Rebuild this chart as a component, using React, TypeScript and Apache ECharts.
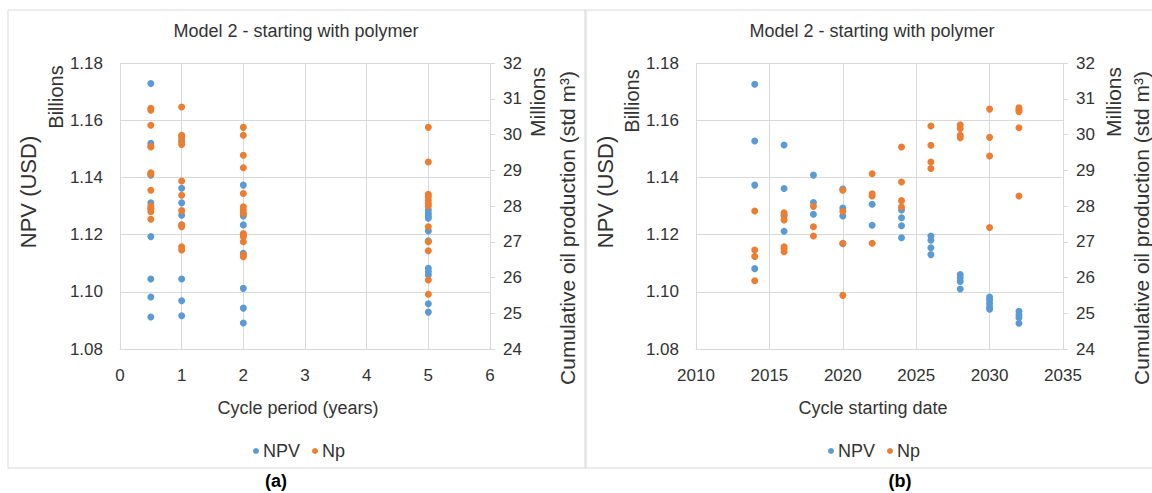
import React, { useEffect, useRef } from "react";
import * as echarts from "echarts";

const chartTitle = "Model 2 - starting with polymer";

// Panel (a): cycle period (years)
const periods = [0.5, 1, 2, 5];
const npvByPeriod = [
  [1.1728, 1.1519, 1.1408, 1.1311, 1.129, 1.1193, 1.1045, 1.0982, 1.0912],
  [1.153, 1.1362, 1.1311, 1.1268, 1.1234, 1.1045, 1.0969, 1.0916],
  [1.1373, 1.1274, 1.1265, 1.1234, 1.1199, 1.1135, 1.1012, 1.0943, 1.0891],
  [1.1286, 1.1274, 1.1265, 1.1257, 1.1213, 1.1178, 1.1082, 1.1071, 1.1059, 1.0958, 1.0929],
];
const npByPeriod = [
  [30.73, 30.68, 30.26, 29.67, 29.65, 28.93, 28.89, 28.44, 28.0, 27.93, 27.84, 27.63],
  [30.77, 29.98, 29.93, 29.79, 29.72, 28.7, 28.3, 27.87, 27.47, 27.42, 26.86, 26.77],
  [30.2, 29.98, 29.42, 29.07, 28.35, 27.98, 27.89, 27.79, 27.23, 27.14, 27.0, 26.63, 26.58],
  [30.2, 29.23, 28.33, 28.26, 28.16, 28.07, 28.0, 27.42, 27.0, 26.75, 25.93, 25.53],
];

// Panel (b): cycle starting date
const startYears = [2014, 2016, 2018, 2020, 2022, 2024, 2026, 2028, 2030, 2032];
const npvByYear = [
  [1.1726, 1.1527, 1.1373, 1.1081],
  [1.1513, 1.1361, 1.1268, 1.1212],
  [1.1408, 1.1312, 1.1271],
  [1.1359, 1.1293, 1.1265, 1.1168],
  [1.1306, 1.1233],
  [1.1286, 1.1259, 1.1231, 1.1189],
  [1.1195, 1.118, 1.1154, 1.113],
  [1.106, 1.1048, 1.1036, 1.101],
  [1.0982, 1.0971, 1.0959, 1.0947, 1.0939],
  [1.0932, 1.092, 1.0909, 1.089],
];
const npByYear = [
  [27.86, 26.77, 26.59, 25.91],
  [27.81, 27.73, 27.61, 26.86, 26.8, 26.72],
  [27.99, 27.42, 27.16],
  [28.44, 27.85, 26.96, 25.5],
  [28.9, 28.34, 28.28, 26.96],
  [29.65, 28.67, 28.15, 27.97],
  [30.24, 29.7, 29.23, 29.05],
  [30.27, 30.17, 29.98, 29.91],
  [30.71, 29.92, 29.4, 27.4],
  [30.75, 30.69, 30.64, 30.19, 28.28],
];

const npvAxis = { min: 1.08, max: 1.18, interval: 0.02 };
const npAxis = { min: 24, max: 32, interval: 1 };
const periodAxis = { min: 0, max: 6, interval: 1 };
const yearAxis = { min: 2010, max: 2035, interval: 5 };

const BLUE = "#5b9bd5";
const ORANGE = "#ed7d31";
const FONT = "'Liberation Sans', Arial, sans-serif";
const TXT = "#333333";
const GRID = "#d9d9d9";

function flatten(xs: number[], ys: number[][]) {
  return xs.flatMap((x, i) => ys[i].map((v) => [x, v]));
}

export default function App() {
  const ref = useRef<HTMLDivElement>(null);
  useEffect(() => {
    if (!ref.current) return;
    const chart = echarts.init(ref.current, null, { renderer: "svg" });
    const label = { color: TXT, fontSize: 17, fontFamily: FONT };
    const mkX = (gi: number, ax: any) => ({
      type: "value",
      gridIndex: gi,
      ...ax,
      axisLine: { show: true, lineStyle: { color: GRID } },
      axisTick: { show: false },
      axisLabel: { ...label, margin: 18, formatter: (v: number) => String(v) },
      splitLine: { show: true, lineStyle: { color: GRID } },
    });
    const mkNpv = (gi: number) => ({
      type: "value",
      gridIndex: gi,
      position: "left",
      ...npvAxis,
      axisLine: { show: false },
      axisTick: { show: false },
      axisLabel: { ...label, margin: 17, formatter: (v: number) => v.toFixed(2) },
      splitLine: { show: true, lineStyle: { color: GRID } },
    });
    const mkNp = (gi: number) => ({
      type: "value",
      gridIndex: gi,
      position: "right",
      ...npAxis,
      axisLine: { show: false },
      axisTick: { show: true, inside: false, length: 5, lineStyle: { color: GRID } },
      axisLabel: { ...label, margin: 13 },
      splitLine: { show: false },
    });
    const sc = (name: string, xi: number, yi: number, data: number[][], color: string) => ({
      type: "scatter",
      name,
      xAxisIndex: xi,
      yAxisIndex: yi,
      data,
      symbolSize: 7,
      itemStyle: { color, opacity: 1 },
    });
    const rotText = (x: number, y: number, text: string, size: number) => ({
      type: "text",
      x,
      y,
      rotation: Math.PI / 2,
      style: { text, fill: TXT, font: `${size}px ${FONT}`, align: "center", verticalAlign: "middle" },
    });
    const hText = (x: number, y: number, text: string, size: number, bold = false) => ({
      type: "text",
      x,
      y,
      style: {
        text,
        fill: bold ? "#000" : TXT,
        font: `${bold ? "bold " : ""}${size}px ${FONT}`,
        align: "center",
        verticalAlign: "middle",
      },
    });
    const legend = (cx: number) => ({
      data: ["NPV", "Np"],
      left: cx - 50,
      top: 437,
      icon: "circle",
      itemWidth: 6,
      itemHeight: 6,
      itemGap: 12,
      textStyle: { ...label, fontSize: 18, padding: [0, 0, 0, -1] },
    });
    chart.setOption({
      animation: false,
      backgroundColor: "#fff",
      grid: [
        { left: 120, top: 63, width: 370, height: 286 },
        { left: 696, top: 63, width: 367, height: 286 },
      ],
      xAxis: [mkX(0, periodAxis), mkX(1, yearAxis)],
      yAxis: [mkNpv(0), mkNp(0), mkNpv(1), mkNp(1)],
      legend: [legend(298), legend(873)],
      series: [
        sc("NPV", 0, 0, flatten(periods, npvByPeriod), BLUE),
        sc("Np", 0, 1, flatten(periods, npByPeriod), ORANGE),
        sc("NPV", 1, 2, flatten(startYears, npvByYear), BLUE),
        sc("Np", 1, 3, flatten(startYears, npByYear), ORANGE),
      ],
      graphic: [
        { type: "rect", shape: { x: 8, y: 10, width: 578, height: 458 }, style: { fill: "none", stroke: GRID, lineWidth: 1 } },
        { type: "rect", shape: { x: 585, y: 10, width: 580, height: 458 }, style: { fill: "none", stroke: GRID, lineWidth: 1 } },
        hText(296, 31, chartTitle, 18),
        hText(872, 31, chartTitle, 18),
        hText(298, 408, "Cycle period (years)", 18),
        hText(873, 408, "Cycle starting date", 18),
        hText(276, 481, "(a)", 18, true),
        hText(900, 481, "(b)", 18, true),
        rotText(28, 192, "NPV (USD)", 22),
        rotText(56, 97, "Billions", 20),
        rotText(537, 102, "Millions", 21),
        rotText(567, 228, "Cumulative oil production (std m³)", 21),
        rotText(605, 192, "NPV (USD)", 22),
        rotText(632, 101, "Billions", 20),
        rotText(1113, 102, "Millions", 21),
        rotText(1141, 228, "Cumulative oil production (std m³)", 21),
      ],
    });
    return () => chart.dispose();
  }, []);
  return (
    <div
      ref={ref}
      style={{ position: "fixed", left: 0, top: 0, width: 1152, height: 493, background: "#fff" }}
    />
  );
}
